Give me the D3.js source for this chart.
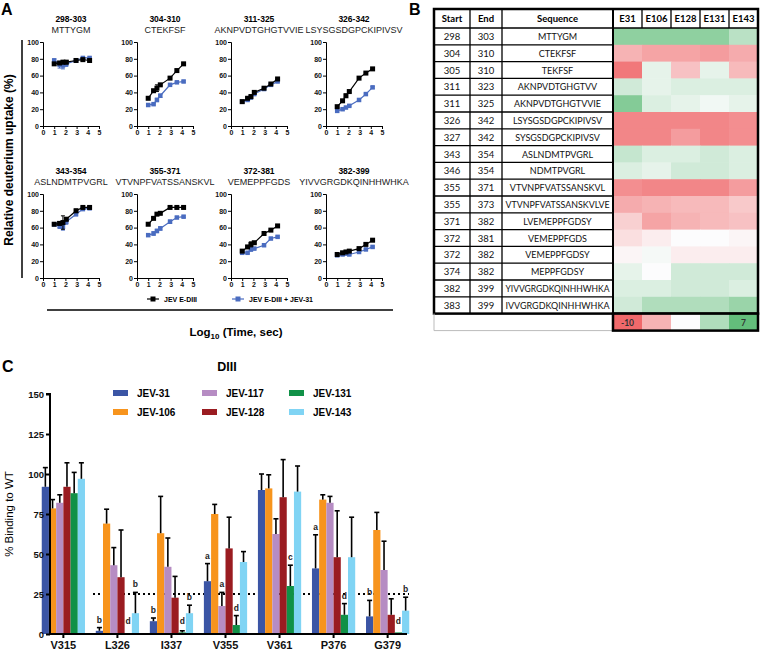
<!DOCTYPE html>
<html><head><meta charset="utf-8">
<script src="https://cdn.jsdelivr.net/npm/d3@7"></script>
<style>body{margin:0;background:#fff}svg{display:block}</style>
</head><body><svg id="c" width="760" height="651"></svg>
<script>
// ---------- Panel A data ----------
const peptideRanges = ["298-303","304-310","311-325","326-342","343-354","355-371","372-381","382-399"];
const peptideSeqs = ["MTTYGM","CTEKFSF","AKNPVDTGHGTVVIE","LSYSGSDGPCKIPIVSV","ASLNDMTPVGRL","VTVNPFVATSSANSKVL","VEMEPPFGDS","YIVVGRGDKQINHHWHKA"];
const timeLog = [1, 1.48, 1.78, 2.08, 2.95, 3.56, 4.16];
const uptakeDIII = [
  [74, 75, 76, 76, 78, 79, 78],
  [33, 42, 45, 49, 57, 66, 74],
  [29, 33, 35, 40, 45, 50, 56],
  [23, 30, 36, 41, 57, 63, 68],
  [64, 65, 66, 70, 80, 84, 84],
  [64, 71, 76, 77, 84, 84, 84],
  [32, 37, 40, 42, 53, 57, 62],
  [28, 30, 31, 32, 35, 40, 45]
];
const uptakeDIII31 = [
  [78, 73, 72, 74, 78, 81, 81],
  [25, 26, 31, 36, 49, 52, 53],
  [29, 31, 34, 38, 44, 49, 53],
  [18, 20, 22, 24, 31, 38, 46],
  [64, 62, 61, 67, 76, 82, 83],
  [51, 53, 56, 59, 67, 72, 73],
  [30, 30, 34, 35, 39, 47, 49],
  [27, 28, 29, 28, 31, 34, 37]
];
const errDIII = [
  [1,1,2,2,1,1,1],[0,1,4,1,1,1,1],[1,1,2,1,1,1,1],[1,1,2,1,1,1,1],
  [1,2,8,2,2,1,1],[1,1,1,1,1,1,1],[1,1,3,1,1,1,1],[1,1,1,1,1,1,1]
];
const errDIII31 = [
  [2,4,4,3,1,1,1],[1,1,2,2,1,1,1],[1,1,2,1,1,1,1],[1,1,1,1,1,1,1],
  [2,3,4,3,2,1,1],[1,2,2,2,2,1,1],[1,1,2,1,1,1,1],[1,1,1,1,1,1,1]
];
const seriesA = ["JEV E-DIII", "JEV E-DIII + JEV-31"];

// ---------- Panel B data ----------
const tblStart = [298,304,305,311,311,326,327,343,346,355,355,371,372,372,374,382,383];
const tblEnd   = [303,310,310,323,325,342,342,354,354,371,373,382,381,382,382,399,399];
const tblSeq = ["MTTYGM","CTEKFSF","TEKFSF","AKNPVDTGHGTVV","AKNPVDTGHGTVVIE","LSYSGSDGPCKIPIVSV","SYSGSDGPCKIPIVSV","ASLNDMTPVGRL","NDMTPVGRL","VTVNPFVATSSANSKVL","VTVNPFVATSSANSKVLVE","LVEMEPPFGDSY","VEMEPPFGDS","VEMEPPFGDSY","MEPPFGDSY","YIVVGRGDKQINHHWHKA","IVVGRGDKQINHHWHKA"];
const tblAbs = ["E31","E106","E128","E131","E143"];
const tblVals = [
  [5, 5, 5, 5, 3],
  [-5, -6, -6, -6.5, -5.5],
  [-9, 1, -4, 1, -4.5],
  [2, 1, 1.5, 1.5, 1.5],
  [5.5, 1.5, 1, 0.5, 1],
  [-8, -8, -8, -8, -7.5],
  [-8, -8, -6.5, -8, -7.5],
  [2.5, 1.5, 1.5, 2, 1.5],
  [1.5, 1, 2, 2, 1.5],
  [-7.5, -8, -8, -8, -6.5],
  [-5.5, -5, -4.5, -4.5, -3.5],
  [-3, -6, -5, -4.5, -4],
  [-2, -1, 0, 0, -0.5],
  [-0.5, 0.3, -1, -1, -1],
  [1, 0, 2, 2, 2],
  [1.5, 1.5, 2, 2, 1.5],
  [2, 3.5, 3.5, 3.5, 4.5]
];
const scaleLegendVals = [-10, -5, 0, 3.5, 7];
const scaleLegendText = ["-10", "", "", "", "7"];

// ---------- Panel C data ----------
const mutants = ["V315","L326","I337","V355","V361","P376","G379"];
const antibodies = ["JEV-31","JEV-106","JEV-117","JEV-128","JEV-131","JEV-143"];
const abColors = ["#3b55a5","#f7941d","#b68cc3","#9a1c21","#109147","#80d4f4"];
const binding = [
  [92, 2, 8, 33, 90, 41, 11],
  [78.5, 69, 63, 75, 91, 84, 65],
  [82, 43, 42, 17.5, 62.5, 82, 40],
  [92, 35.5, 22.7, 53.5, 85.5, 48, 12],
  [88, 0, 1, 5.6, 30, 12, 1],
  [97, 13, 13, 45, 89, 48, 14.6]
];
const bindingSD = [
  [12, 2, 2, 11, 10, 21, 10],
  [5.5, 9, 23, 6, 8.5, 3, 11],
  [5, 11, 18, 8.5, 9.5, 4, 18],
  [15, 29.5, 13.3, 19.5, 23.5, 29, 10],
  [13, 0, 1, 5.9, 13, 7, 0],
  [10, 13, 5, 6.5, 16, 25, 8.4]
];
const letters = [
  ["L326","JEV-31","b"],["L326","JEV-131","d"],["L326","JEV-143","b"],
  ["I337","JEV-31","b"],["I337","JEV-131","d"],["I337","JEV-143","b"],
  ["V355","JEV-31","a"],["V355","JEV-117","a"],["V355","JEV-131","d"],
  ["V361","JEV-131","c"],
  ["P376","JEV-31","a"],["P376","JEV-131","d"],
  ["G379","JEV-31","b"],["G379","JEV-131","d"],["G379","JEV-143","b"]
];
const cutoff = 25;
const yTicksC = [0, 25, 50, 75, 100, 125, 150];

// ================= DRAW =================
const svg = d3.select("#c");
const FONT = "'Liberation Sans', Arial, sans-serif";
svg.append("rect").attr("width",760).attr("height",651).attr("fill","#fff");

function panelLabel(t, x, y){
  svg.append("text").attr("x",x).attr("y",y).text(t)
    .attr("font-family",FONT).attr("font-weight","bold").attr("font-size",16);
}
panelLabel("A", 1, 15);
panelLabel("B", 409, 15);
panelLabel("C", 2, 372);

// ---------- Panel A ----------
const colX = [43, 137, 231, 326];
const rowBase = [126, 278];
const blueA = "#4a6cc0";
peptideRanges.forEach((pr, i) => {
  const x0 = colX[i % 4], yb = rowBase[Math.floor(i / 4)];
  const x = d3.scaleLinear().domain([0,5]).range([x0, x0 + 56]);
  const y = d3.scaleLinear().domain([0,100]).range([yb, yb - 84]);
  const g = svg.append("g");
  const cx = x0 + 28;
  g.append("text").attr("x",cx).attr("y",yb-104).attr("text-anchor","middle")
    .attr("font-family",FONT).attr("font-weight","bold").attr("font-size",8.5).text(pr);
  g.append("text").attr("x",cx).attr("y",yb-93).attr("text-anchor","middle")
    .attr("font-family",FONT).attr("font-size",9).attr("fill","#222").text(peptideSeqs[i]);
  const ax = g.append("g").attr("transform",`translate(${x0},0)`)
    .call(d3.axisLeft(y).tickValues([0,20,40,60,80,100]).tickFormat(d3.format("d")).tickSize(3).tickPadding(1));
  const bx = g.append("g").attr("transform",`translate(0,${yb})`)
    .call(d3.axisBottom(x).tickValues([0,1,2,3,4,5]).tickFormat(d3.format("d")).tickSize(3).tickPadding(1));
  [ax,bx].forEach(a=>{
    a.selectAll("text").attr("font-family",FONT).attr("font-weight","bold").attr("font-size",7).attr("fill","#111");
    a.selectAll("path,line").attr("stroke","#000").attr("stroke-width",1);
  });
  const line = d3.line().x((d,k)=>x(timeLog[k])).y(d=>y(d));
  const drawSeries = (vals, errs, col, sz) => {
    g.append("path").attr("d", line(vals)).attr("fill","none").attr("stroke",col).attr("stroke-width",1.2);
    vals.forEach((v,k)=>{
      if (errs[k] > 0) {
        const xx = x(timeLog[k]);
        g.append("line").attr("x1",xx).attr("x2",xx).attr("y1",y(v-errs[k])).attr("y2",y(v+errs[k])).attr("stroke",col).attr("stroke-width",1);
        [v-errs[k], v+errs[k]].forEach(e=>g.append("line").attr("x1",xx-2).attr("x2",xx+2).attr("y1",y(e)).attr("y2",y(e)).attr("stroke",col).attr("stroke-width",1));
      }
      g.append("rect").attr("x",x(timeLog[k])-sz/2).attr("y",y(v)-sz/2).attr("width",sz).attr("height",sz).attr("fill",col);
    });
  };
  drawSeries(uptakeDIII31[i], errDIII31[i], blueA, 4.5);
  drawSeries(uptakeDIII[i], errDIII[i], "#000", 5);
});
// A legend
[[147, "#000", seriesA[0]], [232, blueA, seriesA[1]]].forEach(([lx,col,t],k)=>{
  svg.append("line").attr("x1",lx).attr("x2",lx+12).attr("y1",299).attr("y2",299).attr("stroke",col).attr("stroke-width",1.2);
  svg.append("rect").attr("x",lx+3.5).attr("y",296.5).attr("width",5).attr("height",5).attr("fill",col);
  svg.append("text").attr("x",lx+17).attr("y",302).text(t)
    .attr("font-family",FONT).attr("font-weight","bold").attr("font-size",7);
});
svg.append("line").attr("x1",47).attr("x2",393).attr("y1",310).attr("y2",310).attr("stroke","#000").attr("stroke-width",1.5);
svg.append("line").attr("x1",22).attr("x2",22).attr("y1",40).attr("y2",278).attr("stroke","#000").attr("stroke-width",1.5);
const logT = svg.append("text").attr("x",236).attr("y",336).attr("text-anchor","middle")
  .attr("font-family",FONT).attr("font-weight","bold").attr("font-size",11.5);
logT.append("tspan").text("Log");
logT.append("tspan").text("10").attr("font-size",8).attr("dy",3);
logT.append("tspan").text(" (Time, sec)").attr("dy",-3);
svg.append("text").attr("transform","translate(13,160) rotate(-90)").attr("text-anchor","middle")
  .attr("font-family",FONT).attr("font-weight","bold").attr("font-size",12).text("Relative deuterium uptake (%)");

// ---------- Panel B ----------
const TF = "Lato, 'Open Sans', sans-serif";
const colB = [434, 470, 502, 613, 642, 671, 700, 729, 758];
const hTop = 9, hBot = 28, rowH = 16.8;
const rowY = d3.scaleLinear().domain([0, tblStart.length]).range([hBot, hBot + rowH*tblStart.length]);
const color = d3.scaleLinear().domain([-10, 0, 7]).range(["#f0696b", "#fcfcfd", "#63be7b"]);
const gB = svg.append("g");
tblVals.forEach((row, r) => row.forEach((v, c) => {
  gB.append("rect").attr("x",colB[3+c]).attr("y",rowY(r)).attr("width",colB[4+c]-colB[3+c]+0.5).attr("height",rowH+0.5).attr("fill",color(v));
}));
const headers = ["Start","End","Sequence"].concat(tblAbs);
headers.forEach((h,c)=>{
  gB.append("text").attr("x",(colB[c]+colB[c+1])/2).attr("y",(hTop+hBot)/2+3.5).attr("text-anchor","middle")
    .attr("font-family",TF).attr("font-weight","bold").attr("font-size",9.5).text(h);
});
tblStart.forEach((s,r)=>{
  const yy = rowY(r) + rowH/2 + 3.5;
  [s, tblEnd[r], tblSeq[r]].forEach((t,c)=>{
    const tx = gB.append("text").attr("x",(colB[c]+colB[c+1])/2).attr("y",yy).attr("text-anchor","middle")
      .attr("font-family",TF).attr("font-size",c===2?9:9.5).attr("fill","#111").text(t);
    if (c === 2) {
      const w = tx.node().getComputedTextLength();
      if (w > 104) tx.attr("textLength",104).attr("lengthAdjust","spacingAndGlyphs");
    }
  });
});
const tblBottom = rowY(tblStart.length);
for (let r = 1; r < tblStart.length; r++) {
  gB.append("line").attr("x1",colB[0]).attr("x2",colB[3]).attr("y1",rowY(r)).attr("y2",rowY(r)).attr("stroke","#000").attr("stroke-width",1.3);
}
gB.append("line").attr("x1",colB[0]).attr("x2",colB[8]).attr("y1",hBot).attr("y2",hBot).attr("stroke","#000").attr("stroke-width",1.5);
[1,2].forEach(c=>gB.append("line").attr("x1",colB[c]).attr("x2",colB[c]).attr("y1",hTop).attr("y2",tblBottom).attr("stroke","#000").attr("stroke-width",1.3));
[4,5,6,7].forEach(c=>gB.append("line").attr("x1",colB[c]).attr("x2",colB[c]).attr("y1",hTop).attr("y2",hBot).attr("stroke","#000").attr("stroke-width",1.3));
gB.append("line").attr("x1",colB[3]).attr("x2",colB[3]).attr("y1",hTop).attr("y2",tblBottom).attr("stroke","#000").attr("stroke-width",2);
gB.append("rect").attr("x",colB[0]).attr("y",hTop).attr("width",colB[8]-colB[0]).attr("height",tblBottom-hTop)
  .attr("fill","none").attr("stroke","#000").attr("stroke-width",2.5);
const lgTop = tblBottom, lgH = 17;
gB.append("path").attr("d",`M${colB[0]},${lgTop}V${lgTop+lgH}H${colB[3]}`).attr("fill","none").attr("stroke","#bbb").attr("stroke-width",1);
scaleLegendVals.forEach((v,c)=>{
  gB.append("rect").attr("x",colB[3+c]).attr("y",lgTop).attr("width",colB[4+c]-colB[3+c]+0.5).attr("height",lgH).attr("fill",color(v));
  if (scaleLegendText[c]) gB.append("text").attr("x",(colB[3+c]+colB[4+c])/2).attr("y",lgTop+lgH/2+3.5).attr("text-anchor","middle")
    .attr("font-family",TF).attr("font-weight","bold").attr("font-size",8.5).attr("fill","#333").text(scaleLegendText[c]);
});
gB.append("rect").attr("x",colB[3]).attr("y",lgTop).attr("width",colB[8]-colB[3]).attr("height",lgH)
  .attr("fill","none").attr("stroke","#000").attr("stroke-width",2.5);

// ---------- Panel C ----------
const yC = d3.scaleLinear().domain([0,150]).range([634, 394]);
const xC = d3.scaleBand().domain(mutants).range([41.75, 409.25]).paddingInner(0.2).paddingOuter(0);
const xSub = d3.scaleBand().domain(antibodies).range([0, xC.bandwidth()]);
const gC = svg.append("g");
svg.append("text").attr("x",227).attr("y",371).attr("text-anchor","middle").attr("font-family",FONT)
  .attr("font-weight","bold").attr("font-size",12.5).text("DIII");
antibodies.forEach((a,i)=>{
  const lx = [113, 202, 289][Math.floor(i/2)], ly = [393, 412][i%2];
  svg.append("rect").attr("x",lx).attr("y",ly-3).attr("width",15).attr("height",6).attr("fill",abColors[i]);
  svg.append("text").attr("x",lx+24).attr("y",ly+4).text(a).attr("font-family",FONT).attr("font-weight","bold").attr("font-size",10);
});
// cutoff line (behind bars)
gC.append("line").attr("x1",93).attr("x2",409).attr("y1",yC(cutoff)).attr("y2",yC(cutoff))
  .attr("stroke","#000").attr("stroke-width",2).attr("stroke-dasharray","2,3");
antibodies.forEach((a,i)=>{
  mutants.forEach((m,j)=>{
    const v = binding[i][j], sd = bindingSD[i][j];
    const bx = xC(m) + xSub(a), bw = xSub.bandwidth();
    gC.append("rect").attr("x",bx).attr("y",yC(v)).attr("width",bw).attr("height",yC(0)-yC(v)).attr("fill",abColors[i]);
    if (sd > 0) {
      const cx = bx + bw/2;
      gC.append("line").attr("x1",cx).attr("x2",cx).attr("y1",yC(v)).attr("y2",yC(v+sd)).attr("stroke","#000").attr("stroke-width",1.6);
      gC.append("line").attr("x1",cx-2.5).attr("x2",cx+2.5).attr("y1",yC(v+sd)).attr("y2",yC(v+sd)).attr("stroke","#000").attr("stroke-width",1.6);
    }
  });
});
letters.forEach(([m,a,t])=>{
  const i = antibodies.indexOf(a), j = mutants.indexOf(m);
  const top = yC(binding[i][j] + bindingSD[i][j]);
  const cx = xC(m) + xSub(a) + xSub.bandwidth()/2;
  gC.append("text").attr("x",cx).attr("y",Math.min(top - 5, 624)).attr("text-anchor","middle")
    .attr("font-family",FONT).attr("font-weight","bold").attr("font-size",8.5).attr("fill","#222").text(t);
});
const yAx = gC.append("g").attr("transform","translate(50,0)").call(d3.axisLeft(yC).tickValues(yTicksC).tickSize(4).tickPadding(2));
yAx.select(".domain").attr("d","M-4,394H0V634");
const xAx = gC.append("g").attr("transform","translate(0,634)").call(d3.axisBottom(xC).tickSize(4).tickPadding(3));
xAx.select(".domain").attr("d","M50,0H407");
[yAx, xAx].forEach(a=>{
  a.selectAll("path,line").attr("stroke","#000").attr("stroke-width",2);
  a.selectAll("text").attr("font-family",FONT).attr("font-weight","bold").attr("fill","#111");
});
yAx.selectAll("text").attr("font-size",9.5);
xAx.selectAll("text").attr("font-size",11);
svg.append("text").attr("transform","translate(13,514) rotate(-90)").attr("text-anchor","middle")
  .attr("font-family",FONT).attr("font-size",11.5).text("% Binding to WT");
</script></body></html>
